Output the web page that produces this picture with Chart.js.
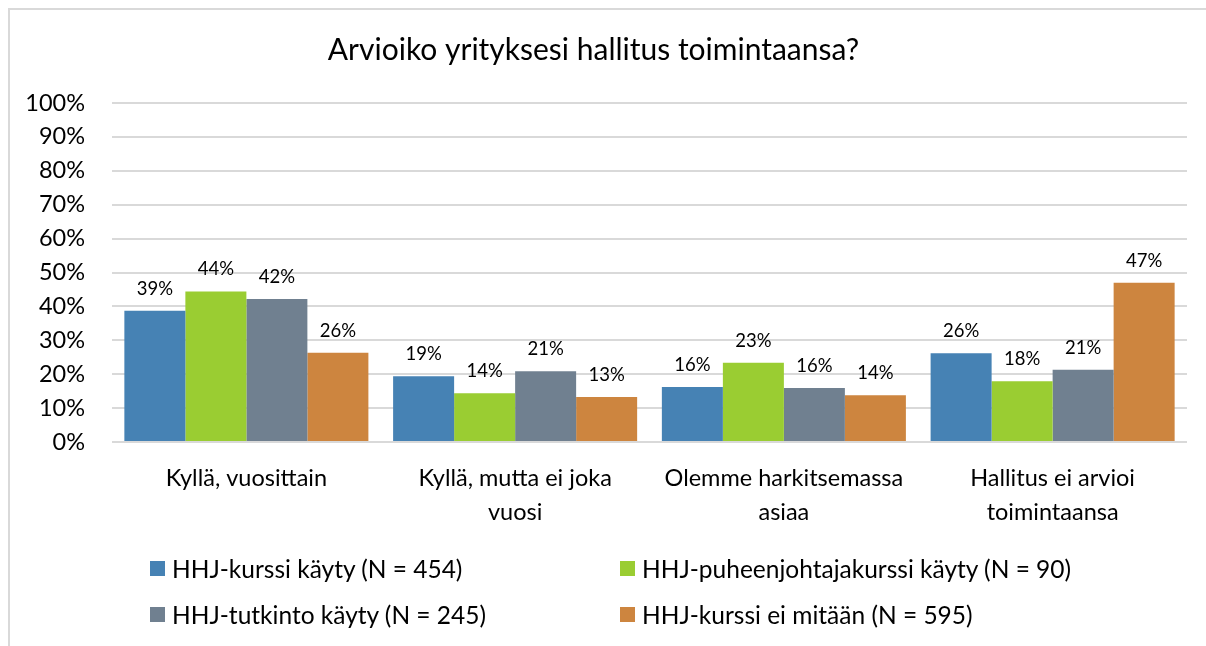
<!DOCTYPE html>
<html>
<head>
<meta charset="utf-8">
<script src="https://cdn.jsdelivr.net/npm/chart.js@4"></script>
<style>
  html, body { margin:0; padding:0; background:#fff; }
  #wrap { position:relative; width:1206px; height:646px; overflow:hidden; font-family:Lato, sans-serif; }
  #frame { position:absolute; left:8px; top:8px; width:1220px; height:700px; border-left:2px solid #d9d9d9; border-top:2px solid #d9d9d9; }
  canvas { position:absolute; left:0; top:0; }
  #legend { position:absolute; left:0; top:0; width:1206px; height:646px; pointer-events:none; }
  .item { position:absolute; display:flex; align-items:center; font-size:24.5px; color:#000; white-space:nowrap; }
  .box { width:15px; height:15px; margin-right:7px; }
</style>
</head>
<body>
<div id="wrap">
  <div id="frame"></div>
  <canvas id="c" width="1206" height="646"></canvas>
  <div id="legend"></div>
</div>
<script>
'use strict';
const title = 'Arvioiko yrityksesi hallitus toimintaansa?';
const categories = [['Kyllä, vuosittain'], ['Kyllä, mutta ei joka', 'vuosi'], ['Olemme harkitsemassa', 'asiaa'], ['Hallitus ei arvioi', 'toimintaansa']];
const seriesNames = ['HHJ-kurssi käyty (N = 454)', 'HHJ-puheenjohtajakurssi käyty (N = 90)', 'HHJ-tutkinto käyty (N = 245)', 'HHJ-kurssi ei mitään (N = 595)'];
const kurssi = [38.7, 19.4, 16.2, 26.2];
const puheenjohtaja = [44.4, 14.4, 23.4, 17.9];
const tutkinto = [42.2, 20.9, 15.9, 21.3];
const eiMitaan = [26.3, 13.3, 13.8, 47.0];
const colors = ['#4682b4', '#9acd32', '#708090', '#cd853f'];
const yTicks = [0, 10, 20, 30, 40, 50, 60, 70, 80, 90, 100];

const valueLabels = {
  id:'valueLabels',
  afterDatasetsDraw(chart) {
    const ctx = chart.ctx;
    ctx.save();
    ctx.font = '18.5px Lato';
    ctx.fillStyle = '#000';
    ctx.textAlign = 'center';
    ctx.textBaseline = 'middle';
    chart.data.datasets.forEach((ds, i) => {
      chart.getDatasetMeta(i).data.forEach((bar, j) => {
        ctx.fillText(Math.round(ds.data[j]) + '%', bar.x, bar.y - 22);
      });
    });
    ctx.restore();
  }
};

const chart = new Chart(document.getElementById('c'), {
  type:'bar',
  data:{
    labels:categories,
    datasets:[kurssi, puheenjohtaja, tutkinto, eiMitaan].map((d, i) => ({
      label:seriesNames[i], data:d, backgroundColor:colors[i], borderWidth:0,
      categoryPercentage:0.908, barPercentage:1 }))
  },
  options:{
    responsive:false, animation:false,
    layout:{ padding:{ top:20, right:19, bottom:0, left:0 } },
    plugins:{
      legend:{ display:false },
      tooltip:{ enabled:false },
      title:{ display:true, text:title, color:'#000', font:{ family:'Lato', size:30, weight:'normal', lineHeight:1.2 },
        padding:{ top:12, bottom:35 } }
    },
    scales:{
      x:{
        grid:{ display:false }, border:{ display:false },
        ticks:{ color:'#000', font:{ family:'Lato', size:23.5, lineHeight:1.45 }, padding:11, maxRotation:0, autoSkip:false },
        afterFit:s => { s.height = 204; }
      },
      y:{
        min:0, max:100,
        afterBuildTicks:s => { s.ticks = yTicks.map(v => ({ value:v })); },
        grid:{ color:'#d9d9d9', lineWidth:2, drawTicks:false }, border:{ display:false },
        ticks:{ color:'#000', font:{ family:'Lato', size:23.5 }, padding:27, callback:v => v + '%' },
        afterFit:s => { s.width = 112; }
      }
    }
  },
  plugins:[valueLabels]
});

// legend in a 2x2 grid, built from the chart's datasets
const legendPos = [[150, 568], [620, 568], [150, 614], [620, 614]];
const legendEl = document.getElementById('legend');
chart.data.datasets.forEach((ds, i) => {
  const it = document.createElement('div');
  it.className = 'item';
  it.style.left = legendPos[i][0] + 'px';
  it.style.top = (legendPos[i][1] - 15) + 'px';
  it.style.height = '30px';
  it.innerHTML = `<span class="box" style="background:${ds.backgroundColor}"></span>${ds.label}`;
  legendEl.appendChild(it);
});
</script>
</body>
</html>
